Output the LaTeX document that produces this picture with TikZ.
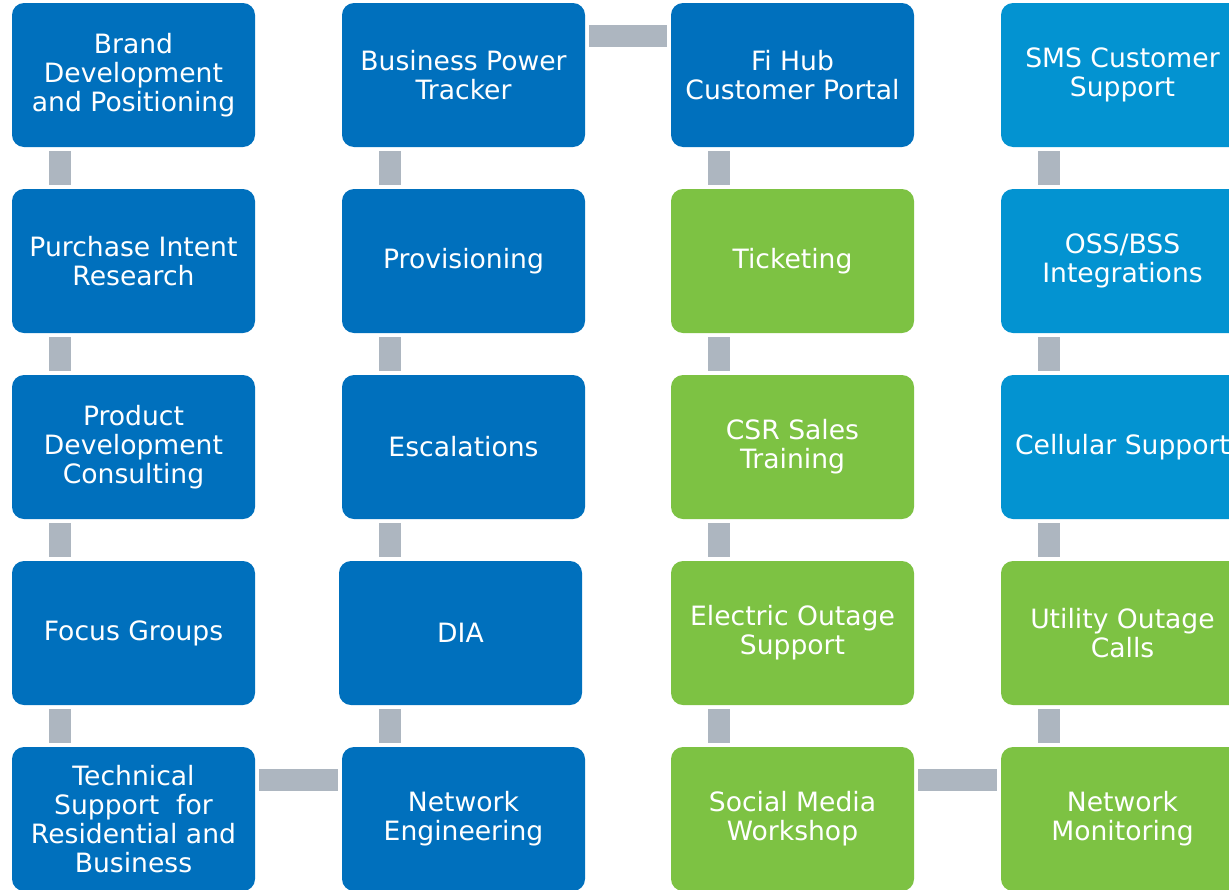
\documentclass[tikz,border=0pt]{standalone}
\usepackage{fontspec}
\setmainfont{DejaVu Sans}
\definecolor{darkblue}{HTML}{0070BD}
\definecolor{lightblue}{HTML}{0393D1}
\definecolor{leafgreen}{HTML}{7DC243}
\definecolor{linkgray}{HTML}{ADB6C0}
\begin{document}
\begin{tikzpicture}[x=1pt,y=-1pt,
  card/.style={rounded corners=12pt,minimum width=243pt,minimum height=144pt,
    inner sep=0pt,align=center,text=white,font=\fontsize{26.6}{29.2}\selectfont},
  bluecard/.style={card,fill=darkblue},
  skycard/.style={card,fill=lightblue},
  greencard/.style={card,fill=leafgreen},
  link/.style={linkgray,line width=22pt,shorten <=4pt,shorten >=4pt}]
\clip (0,0) rectangle (1229,889);
\node [bluecard] (brand) at (133.5,75) {Brand\\Development\\and Positioning};
\node [bluecard] (intent) at (133.5,261) {Purchase Intent\\Research};
\node [bluecard] (product) at (133.5,447) {Product\\Development\\Consulting};
\node [bluecard] (focus) at (133.5,633) {Focus Groups};
\node [bluecard] (tech) at (133.5,819) {Technical\\Support~ for\\Residential and\\Business};
\node [bluecard] (tracker) at (463.5,75) {Business Power\\Tracker};
\node [bluecard] (prov) at (463.5,261) {Provisioning};
\node [bluecard] (escal) at (463.5,447) {Escalations};
\node [bluecard] (dia) at (460.5,633) {DIA};
\node [bluecard] (neteng) at (463.5,819) {Network\\Engineering};
\node [bluecard] (fihub) at (792.5,75) {Fi Hub\\Customer Portal};
\node [greencard] (ticket) at (792.5,261) {Ticketing};
\node [greencard] (csr) at (792.5,447) {CSR Sales\\Training};
\node [greencard] (electric) at (792.5,633) {Electric Outage\\Support};
\node [greencard] (social) at (792.5,819) {Social Media\\Workshop};
\node [skycard] (sms) at (1122.5,75) {SMS Customer\\Support};
\node [skycard] (oss) at (1122.5,261) {OSS/BSS\\Integrations};
\node [skycard] (cell) at (1122.5,447) {Cellular Support};
\node [greencard] (utility) at (1122.5,633) {Utility Outage\\Calls};
\node [greencard] (netmon) at (1122.5,819) {Network\\Monitoring};
\draw [link] ([xshift=-74pt]brand.south) -- ([xshift=-74pt]intent.north);
\draw [link] ([xshift=-74pt]intent.south) -- ([xshift=-74pt]product.north);
\draw [link] ([xshift=-74pt]product.south) -- ([xshift=-74pt]focus.north);
\draw [link] ([xshift=-74pt]focus.south) -- ([xshift=-74pt]tech.north);
\draw [link] ([yshift=39pt]tech.east) -- ([yshift=39pt]neteng.west);
\draw [link] ([xshift=-74pt]neteng.north) -- ([xshift=-74pt]neteng.north |- dia.south);
\draw [link] ([xshift=-74pt]escal.south) -- ([xshift=-74pt]escal.south |- dia.north);
\draw [link] ([xshift=-74pt]escal.north) -- ([xshift=-74pt]prov.south);
\draw [link] ([xshift=-74pt]prov.north) -- ([xshift=-74pt]tracker.south);
\draw [link] ([yshift=39pt]tracker.east) -- ([yshift=39pt]fihub.west);
\draw [link] ([xshift=-74pt]fihub.south) -- ([xshift=-74pt]ticket.north);
\draw [link] ([xshift=-74pt]ticket.south) -- ([xshift=-74pt]csr.north);
\draw [link] ([xshift=-74pt]csr.south) -- ([xshift=-74pt]electric.north);
\draw [link] ([xshift=-74pt]electric.south) -- ([xshift=-74pt]social.north);
\draw [link] ([yshift=39pt]social.east) -- ([yshift=39pt]netmon.west);
\draw [link] ([xshift=-74pt]netmon.north) -- ([xshift=-74pt]utility.south);
\draw [link] ([xshift=-74pt]utility.north) -- ([xshift=-74pt]cell.south);
\draw [link] ([xshift=-74pt]cell.north) -- ([xshift=-74pt]oss.south);
\draw [link] ([xshift=-74pt]oss.north) -- ([xshift=-74pt]sms.south);
\end{tikzpicture}
\end{document}
